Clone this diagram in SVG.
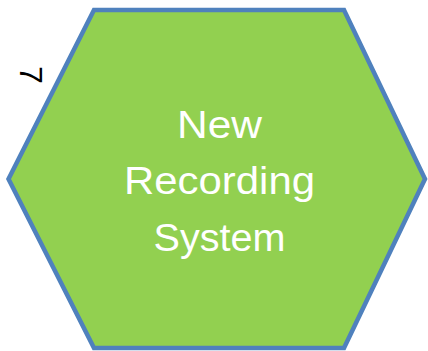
<svg xmlns="http://www.w3.org/2000/svg" width="428" height="351" viewBox="0 0 428 351">
  <style>
    .hex { fill: #92D050; stroke: #4F81BD; stroke-width: 4.5; stroke-linejoin: miter; }
    .lbl { fill: #FFFFFF; font-family: "Liberation Sans", "Open Sans", sans-serif; font-size: 38px; text-anchor: middle; }
    .mark { fill: #000000; font-family: "Liberation Sans", "Open Sans", sans-serif; font-size: 32px; text-anchor: middle; }
  </style>
  <g id="node-new-recording-system">
    <polygon class="hex" points="94,10 344,10 425,179 344,348 94,348 8.5,179"/>
    <text class="lbl" x="219.5" y="138" textLength="85" lengthAdjust="spacingAndGlyphs">New</text>
    <text class="lbl" x="219.5" y="194" textLength="191" lengthAdjust="spacingAndGlyphs">Recording</text>
    <text class="lbl" x="219.5" y="251" textLength="132" lengthAdjust="spacingAndGlyphs">System</text>
  </g>
  <g id="mark-7">
    <text class="mark" transform="translate(20,75) rotate(90)" x="0" y="0">7</text>
  </g>
  <g id="connectors"></g>
</svg>
